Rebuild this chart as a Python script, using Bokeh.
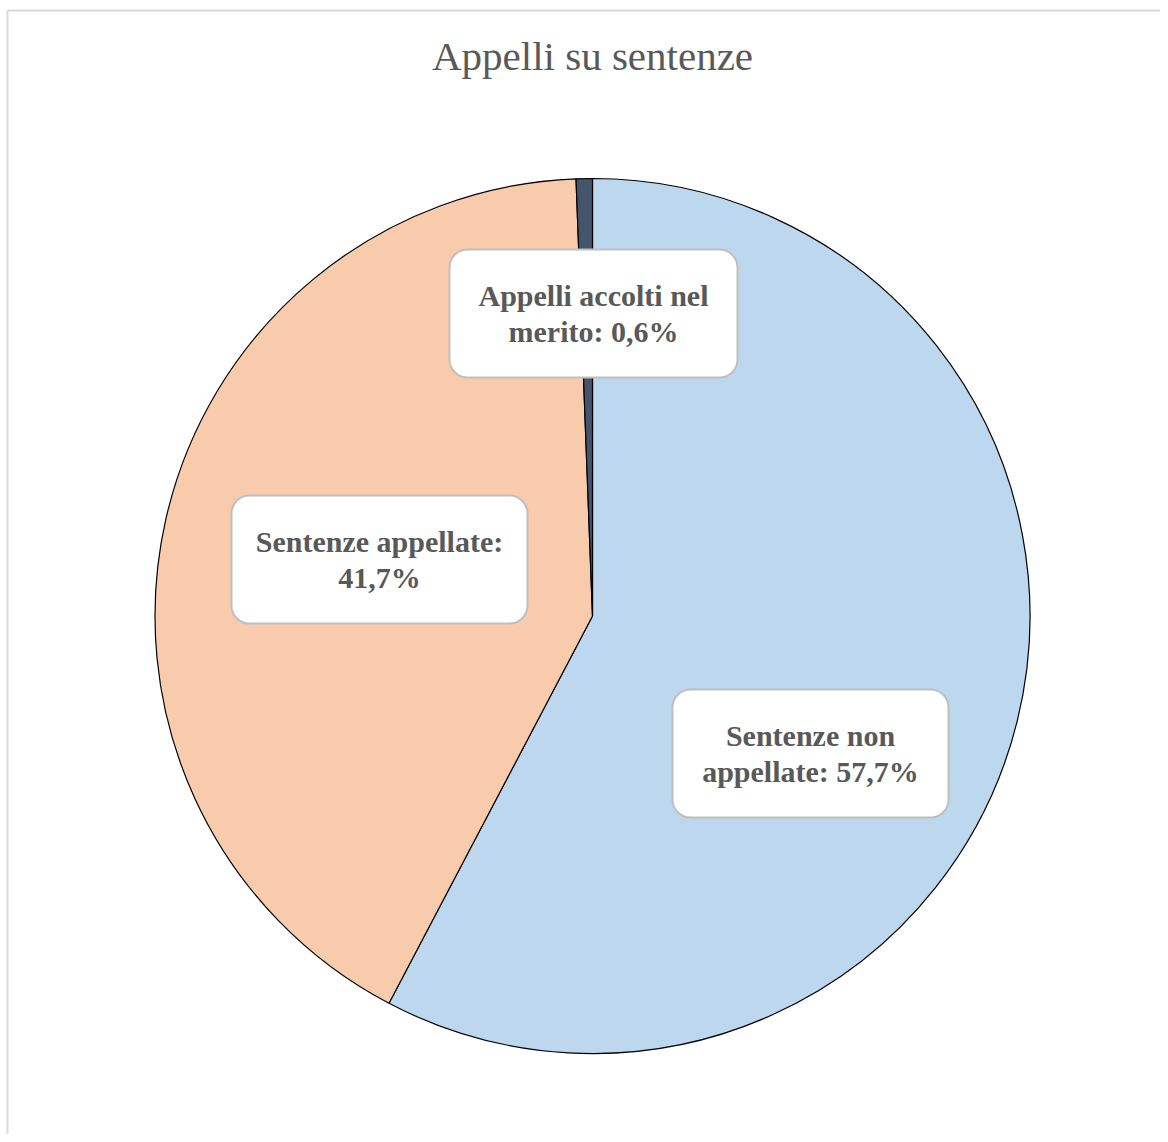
import math
from bokeh.plotting import figure
from bokeh.models import Range1d, ColumnDataSource
from bokeh.core.properties import value
from bokeh.embed import file_html
from bokeh.resources import INLINE

# ---- data ----
categories = ["Sentenze non appellate", "Sentenze appellate", "Appelli accolti nel merito"]
shares = [57.7, 41.7, 0.6]
colors = ["#BDD7EE", "#F8CBAD", "#44546A"]
label_texts = ["Sentenze non\nappellate: 57,7%", "Sentenze appellate:\n41,7%", "Appelli accolti nel\nmerito: 0,6%"]
title_text = "Appelli su sentenze"

# ---- layout (image-pixel based; data y = H - y_img) ----
W, H = 1160, 1134
cx, cy_img, R = 592, 615.5, 437.5
cy = H - cy_img

p = figure(width=W, height=H, output_backend="svg", toolbar_location=None,
           x_range=Range1d(0, W), y_range=Range1d(0, H),
           min_border=0)
p.axis.visible = False
p.grid.visible = False
p.outline_line_color = None
p.background_fill_color = "white"
p.border_fill_color = "white"

# chart border (top & left visible)
p.line(x=[7, 7], y=[-20, H - 10], line_color="#d9d9d9", line_width=2)
p.line(x=[7, 1200], y=[H - 10, H - 10], line_color="#d9d9d9", line_width=2)

# wedges
total = sum(shares)
starts, ends = [], []
cum = 0.0
for v in shares:
    starts.append(math.pi / 2 - 2 * math.pi * cum / total)
    cum += v
    ends.append(math.pi / 2 - 2 * math.pi * cum / total)
src = ColumnDataSource(dict(cat=categories, start=starts, end=ends, color=colors))
p.wedge(x=cx, y=cy, radius=R, start_angle="start", end_angle="end", direction="clock",
        fill_color="color", line_color="black", line_width=1.2, source=src)

# label boxes (image coords of box centres & sizes)
box_cx = [810, 379, 593]
box_cy_img = [753, 559, 313]
box_w = [276, 296, 288]
box_h = [128, 128, 128]
lefts = [c - w / 2 for c, w in zip(box_cx, box_w)]
rights = [c + w / 2 for c, w in zip(box_cx, box_w)]
tops = [H - (c - h / 2) for c, h in zip(box_cy_img, box_h)]
bottoms = [H - (c + h / 2) for c, h in zip(box_cy_img, box_h)]
p.quad(left=lefts, right=rights, top=tops, bottom=bottoms, fill_color="white",
       line_color="#bfbfbf", line_width=2, border_radius=18)

p.text(x=box_cx, y=[H - c for c in box_cy_img], text=label_texts,
       text_font=value("Liberation Serif"), text_font_style="bold",
       text_font_size="30px", text_color="#595959", text_align="center",
       text_baseline="middle", text_line_height=1.1)

# title
p.text(x=[592], y=[H - 55], text=[title_text], text_font=value("Liberation Serif"),
       text_font_size="41px", text_color="#595959", text_align="center",
       text_baseline="middle")

open("out.html", "w").write(file_html(p, INLINE))
